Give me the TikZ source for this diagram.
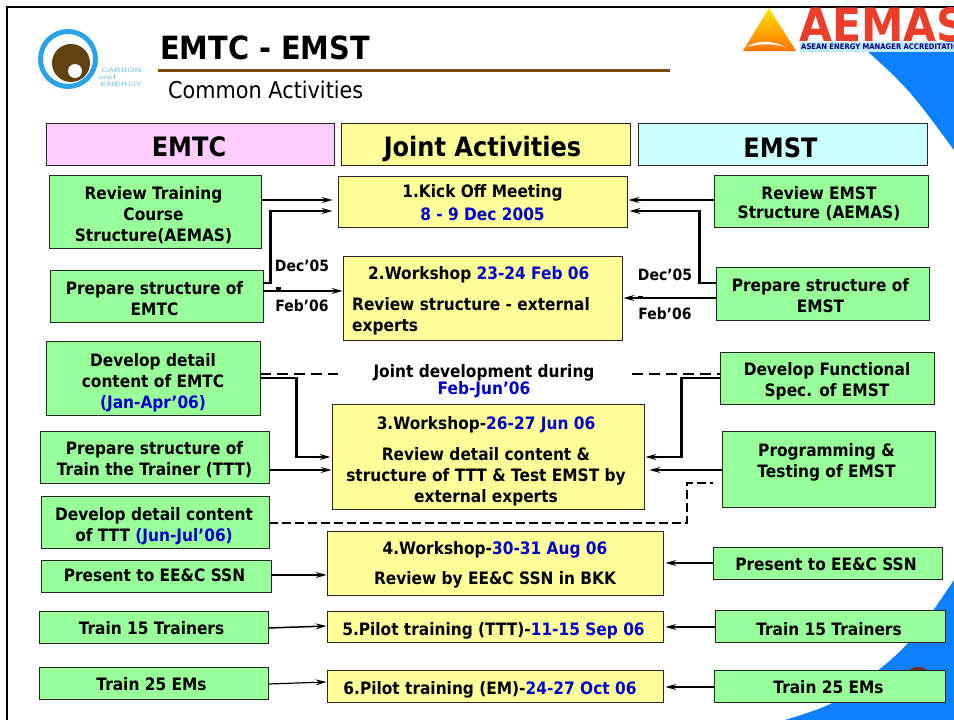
\documentclass[tikz,border=0pt]{standalone}
\usepackage{fontspec}
\setmainfont{DejaVu Sans}[FakeStretch=0.9]
\usetikzlibrary{arrows.meta,calc,shadings}
\definecolor{gbox}{HTML}{99FF99}
\definecolor{ybox}{HTML}{FFFF99}
\definecolor{pbox}{HTML}{FFCCFF}
\definecolor{cbox}{HTML}{CCFFFF}
\definecolor{datec}{HTML}{0000C8}
\definecolor{brownl}{HTML}{7A4A10}
\definecolor{bluebg}{HTML}{0D80FF}
\definecolor{lightb}{HTML}{2BA3E8}
\definecolor{logobr}{HTML}{5F4210}
\definecolor{aemasr}{HTML}{EA3D2A}
\definecolor{domec}{HTML}{7A2E1A}
\newcommand{\dt}[1]{\textcolor{datec}{#1}}
% \bx[fill]{name}{x1}{y1}{x2}{y2}{dx,dy of text}{text}
\newcommand{\bx}[7][gbox]{\node[boxst,fill=#1,minimum width={(#5-#3)*1pt},minimum height={(#6-#4)*1pt}] (#2) at ({(#3+#5)/2},{(#4+#6)/2}) {};
\node[txtst] (#2-t) at ([shift={(#7)}]#2.center)}
\tikzset{
  boxst/.style={draw=black!85,line width=0.9pt,inner sep=0pt},
  txtst/.style={inner sep=0pt,align=center,font=\fontsize{17.1}{21}\selectfont\bfseries},
  headst/.style={font=\fontsize{26.7}{30}\selectfont\bfseries},
  thin conn/.style={line width=1.2pt,-{Stealth[length=11pt,width=6pt,inset=4pt]}},
  thick conn/.style={line width=2.2pt,-{Stealth[length=11pt,width=6pt,inset=4pt]}},
  mid conn/.style={line width=1.5pt,-{Stealth[length=11pt,width=6pt,inset=4pt]}},
  dash conn/.style={line width=1.2pt,dash pattern=on 11pt off 6pt},
  dash low/.style={line width=1.6pt,dash pattern=on 8.5pt off 4.5pt},
  lab/.style={font=\fontsize{15.5}{18}\selectfont\bfseries,inner sep=0pt},
  logot/.style={font=\fontsize{6}{6}\selectfont,text=lightb!65,inner sep=0pt},
}
\begin{document}
\begin{tikzpicture}[x=1pt,y=-1pt]
\useasboundingbox (0,0) rectangle (954,720);
\begin{scope}
\clip (0,0) rectangle (954,720);
% background
\fill[bluebg] plot[smooth] coordinates {(866,50) (890,72) (912,95) (934,123) (956,153)} -- (960,40) -- cycle;
\fill[bluebg] plot[smooth] coordinates {(956,577) (932,612) (908,643) (881,668) (832,703) (785,720)} -- (960,722) -- cycle;
\fill[domec] (918,682) circle (15);
% frame
\draw[black,line width=2pt] (7,722) -- (7,7) -- (956,7);
% carbon logo
\draw[lightb,line width=5pt] (68,59) circle (27.5);
\fill[logobr] (71,63) circle (19);
\fill[white] (75,71) circle (7);
\node[logot,anchor=east] (carbonA) at (142,70.5) {\scalebox{1.75}[1]{CARBON}};
\node[logot,anchor=west] (carbonB) at (98,77.5) {\scalebox{1.75}[1]{and}};
\node[logot,anchor=east] (carbonC) at (142,84.5) {\scalebox{1.9}[1]{ENERGY}};
% aemas logo
\shade[top color=yellow!80!orange,bottom color=orange!90!red] (743,51) -- (769,8) -- (796,51) -- cycle;
\fill[white] (746,47) .. controls (757,41) and (768,39) .. (786,47) .. controls (770,43) and (760,44) .. (746,47) -- cycle;
\fill[cyan!25] (800,42) rectangle (954,52);
\node[anchor=west,text=aemasr,inner sep=0pt,font=\fontsize{46}{46}\selectfont\bfseries] (aemas) at (799,25) {\scalebox{1.03}[1]{AEMAS}};
\node[anchor=west,text=blue!50!black,inner sep=0pt,font=\fontsize{7.6}{8}\selectfont\bfseries] (acc) at (801,47) {ASEAN ENERGY MANAGER ACCREDITATION};
\end{scope}
% titles
\node[anchor=west,inner sep=0pt,font=\fontsize{32}{34}\selectfont\bfseries] (title) at (160,47.5) {EMTC - EMST};
\draw[brownl,line width=3pt] (158,70) -- (670,70);
\node[anchor=west,inner sep=0pt,font=\fontsize{23.1}{26}\selectfont] (sub) at (168,90) {Common Activities};
% headers
\bx[pbox]{hA}{46}{123}{334}{165}{-1,3}[headst]{EMTC};
\bx[ybox]{hB}{341}{123}{630}{165}{-3,5.5}[headst]{Joint Activities};
\bx[cbox]{hC}{638}{123}{927}{165}{-2,4}[headst]{EMST};
% left
\bx{l1}{49}{175}{261}{248}{-1.5,4}{Review Training\\Course\\Structure(AEMAS)};
\bx{l2}{50}{270}{263}{322}{-2,2.5}{Prepare structure of\\EMTC};
\bx{l3}{46}{341}{260}{415}{0,5}{Develop detail\\content of EMTC\\\dt{(Jan-Apr'06)}};
\bx{l4}{40}{431}{269}{483}{0,2.5}{Prepare structure of\\Train the Trainer (TTT)};
\bx{l5}{41}{496}{269}{548}{-1,4.5}{Develop detail content\\of TTT \dt{(Jun-Jul'06)}};
\bx{l6}{41}{560}{271}{592}{-1.5,-1}{Present to EE\&C SSN};
\bx{l7}{39}{611}{268}{643}{-2,1}{Train 15 Trainers};
\bx{l8}{39}{667}{268}{699}{-2,1}{Train 25 EMs};
% right
\bx{r1}{714}{175}{928}{227}{-2,2.5}{Review EMST\\[-2pt]Structure (AEMAS)};
\bx{r2}{716}{267}{929}{320}{-2,2}{Prepare structure of\\EMST};
\bx{r3}{720}{352}{934}{404}{0,3}{Develop Functional\\Spec. of EMST};
\bx{r4}{722}{431}{935}{507}{-2,-6.5}{Programming \&\\Testing of EMST};
\bx{r5}{713}{547}{942}{579}{-1.5,1}{Present to EE\&C SSN};
\bx{r6}{715}{610}{945}{642}{-1,3}{Train 15 Trainers};
\bx{r7}{714}{670}{945}{702}{-1,1}{Train 25 EMs};
% joint
\bx[ybox]{j1}{338}{176}{627}{227}{0,1}{1.Kick Off Meeting\\[2pt]\dt{8 - 9 Dec 2005}};
\node[boxst,fill=ybox,minimum width=279pt,minimum height=84pt] (j2) at (482.5,298) {};
\node[anchor=west,inner sep=0pt,font=\fontsize{17.1}{21}\selectfont\bfseries,align=left] (j2t) at (352,300.5) {\hspace*{16pt}2.Workshop \dt{23-24 Feb 06}\\[10pt]Review structure - external\\experts};
\bx[ybox]{j3}{332}{404}{644}{509}{-2,5}{3.Workshop-\dt{26-27 Jun 06}\\[10pt]Review detail content \&\\structure of TTT \& Test EMST by\\external experts};
\bx[ybox]{j4}{327}{531}{663}{595}{0,1.5}{4.Workshop-\dt{30-31 Aug 06}\\[9pt]Review by EE\&C SSN in BKK};
\bx[ybox]{j5}{327}{611}{663}{642}{-1.5,4}{5.Pilot training (TTT)-\dt{11-15 Sep 06}};
\bx[ybox]{j6}{327}{670}{663}{702}{-5,4}{6.Pilot training (EM)-\dt{24-27 Oct 06}};
% labels
\node[lab] (d1) at (302,266) {Dec'05};
\node[lab] (f1) at (302,306) {Feb'06};
\node[lab] (d2) at (665,275) {Dec'05};
\node[lab] (f2) at (665,314) {Feb'06};
\node[inner sep=0pt,align=center,font=\fontsize{17.1}{17}\selectfont\bfseries] (jd) at (484,381.5) {Joint development during\\\dt{Feb-Jun'06}};
% connectors (yshift is upward on the page)
\draw[thin conn] ([yshift=11.5pt]l1.east) -- ([xshift=-5pt,yshift=1.5pt]j1.west);
\draw[thick conn] ([yshift=13pt]l2.east) -- ++(7,0) |- ([xshift=-5pt,yshift=-9.5pt]j1.west);
\draw[mid conn] ([yshift=5pt]l2.east) -- ([yshift=7pt]j2.west);
\fill (276,287) rectangle (281,289.5);
\draw[thin conn] ([yshift=1pt]r1.west) -- ([xshift=1pt,yshift=1.5pt]j1.east);
\draw[thick conn] ([yshift=10.5pt]r2.west) -- ++(-16,0) |- ([xshift=2pt,yshift=-9.5pt]j1.east);
\draw[mid conn] ([yshift=-4.5pt]r2.west) -- ([xshift=1pt]j2.east);
\fill (638,295.5) rectangle (643,298);
\draw[thick conn] (l3.east) -- ++(36,0) |- ([xshift=-1pt,yshift=-0.5pt]j3.west);
\draw[thick conn] (r3.west) -- ++(-38,0) |- ([xshift=1pt,yshift=-0.5pt]j3.east);
\draw[thin conn] ([yshift=-13pt]l4.east) -- ([yshift=-13.5pt]j3.west);
\draw[thin conn] ([yshift=-1pt]r4.west) -- ([xshift=5pt,yshift=-13.5pt]j3.east);
\coordinate (dl1) at ([yshift=4pt]l3.east);
\coordinate (dl1e) at (338,374);
\coordinate (dr1) at (632,374);
\draw[dash conn] (dl1) -- (dl1e);
\draw[dash conn] (dr1) -- (r3.west|-dr1);
\coordinate (dcorner) at (687,483);
\draw[dash low] ([yshift=-1pt]l5.east) -| (dcorner) -- ++(26,0);
\draw[thin conn] ([yshift=1pt]l6.east) -- ([yshift=-12pt]j4.west);
\draw[thin conn] (r5.west) -- ([xshift=2pt]j4.east|-r5.west);
\draw[mid conn] ([yshift=-1pt]l7.east) -- ([yshift=0.5pt]j5.west);
\draw[thin conn] ([yshift=-1pt]r6.west) -- ([xshift=2pt,yshift=-0.5pt]j5.east);
\draw[thin conn] ([yshift=-1pt]l8.east) -- ([yshift=4pt]j6.west);
\draw[thin conn] ([yshift=-1pt]r7.west) -- ([xshift=2pt,yshift=-1pt]j6.east);
\end{tikzpicture}
\end{document}
